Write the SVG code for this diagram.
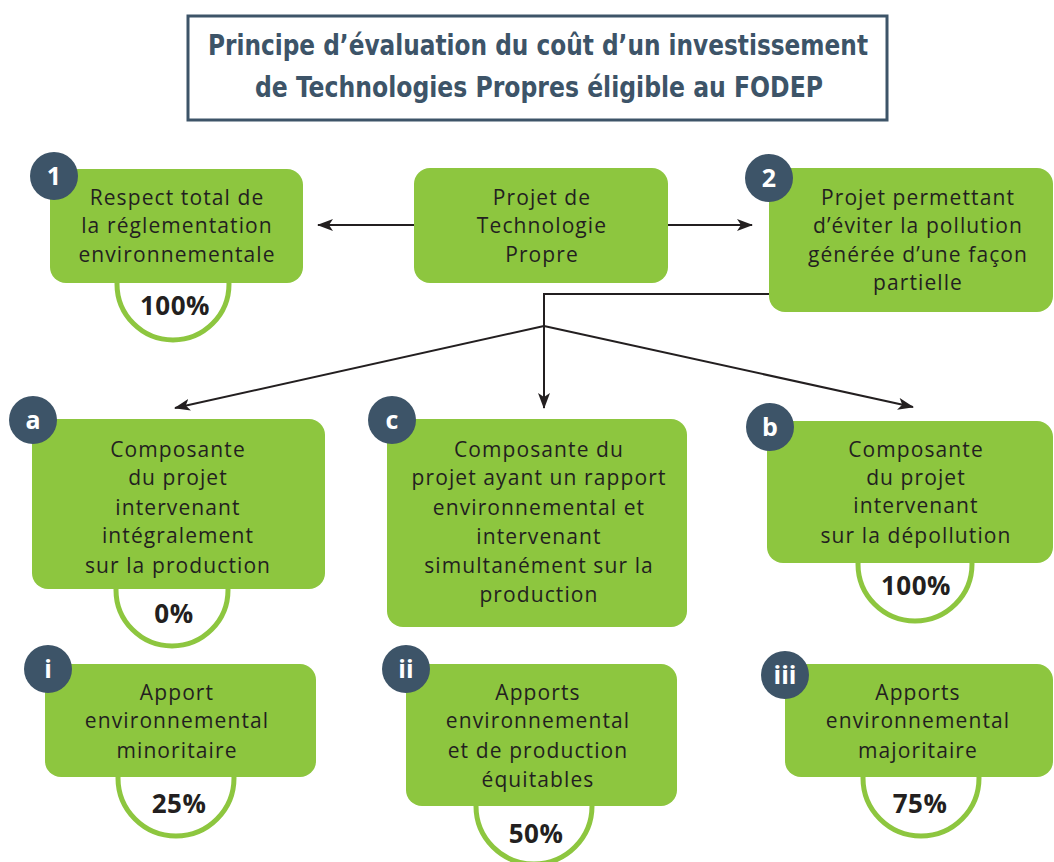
<svg xmlns="http://www.w3.org/2000/svg" width="1054" height="862" viewBox="0 0 1054 862">
<style>
.box{fill:#8dc63f}
.pc{fill:#fff;stroke:#8dc63f;stroke-width:5}
.bd{fill:#3d5468}
.bt{fill:#fff;font-family:"Open Sans","DejaVu Sans",sans-serif;font-weight:700;font-size:25px;text-anchor:middle}
.t{fill:#231f20;font-family:"Open Sans","Noto Sans",sans-serif;font-size:21px;letter-spacing:1.1px;text-anchor:middle}
.p{fill:#231f20;font-family:"Open Sans","Noto Sans",sans-serif;font-weight:700;font-size:26px;text-anchor:middle;letter-spacing:0.5px}
.ttl{fill:#3d5468;font-family:"DejaVu Sans Condensed","Open Sans",sans-serif;font-weight:700;font-size:29px;text-anchor:middle}
.c{fill:none;stroke:#231f20;stroke-width:2}
</style>
<defs>
<marker id="ah" markerUnits="userSpaceOnUse" markerWidth="16" markerHeight="12" refX="15" refY="6" orient="auto">
<path d="M0,0 L16,6 L0,12 L4,6 z" fill="#231f20"/>
</marker>
</defs>
<rect width="1054" height="862" fill="#fff"/>
<g id="title">
<rect x="188" y="16" width="699" height="104" fill="#fff" stroke="#3d5468" stroke-width="3"/>
<text class="ttl" x="538" y="55" textLength="660" lengthAdjust="spacingAndGlyphs">Principe d’évaluation du coût d’un investissement</text>
<text class="ttl" x="539" y="97" textLength="568" lengthAdjust="spacingAndGlyphs">de Technologies Propres éligible au FODEP</text>
</g>
<g id="connectors">
<line class="c" x1="414" y1="225" x2="318" y2="225" marker-end="url(#ah)"/>
<line class="c" x1="668" y1="225" x2="752" y2="225" marker-end="url(#ah)"/>
<polyline class="c" points="769,294 544,294 544,408" marker-end="url(#ah)"/>
<line class="c" x1="544" y1="326" x2="175" y2="408" marker-end="url(#ah)"/>
<line class="c" x1="544" y1="326" x2="913" y2="407" marker-end="url(#ah)"/>
</g>
<g id="node1">
<circle class="pc" cx="173" cy="284" r="56"/>
<rect class="box" x="50" y="169" width="253" height="114" rx="16"/>
<circle class="bd" cx="54" cy="176" r="24"/>
<text class="bt" x="54" y="185">1</text>
<text class="t" x="177" y="205">Respect total de</text>
<text class="t" x="177" y="233">la réglementation</text>
<text class="t" x="177" y="262">environnementale</text>
<text class="p" x="175" y="315">100%</text>
</g>
<g id="projet">
<rect class="box" x="414" y="168" width="254" height="115" rx="16"/>
<text class="t" x="542" y="205">Projet de</text>
<text class="t" x="542" y="233">Technologie</text>
<text class="t" x="542" y="262">Propre</text>
</g>
<g id="node2">
<rect class="box" x="769" y="168" width="284" height="144" rx="16"/>
<circle class="bd" cx="769" cy="178" r="24"/>
<text class="bt" x="769" y="187">2</text>
<text class="t" x="918" y="205">Projet permettant</text>
<text class="t" x="918" y="233">d’éviter la pollution</text>
<text class="t" x="918" y="262">générée d’une façon</text>
<text class="t" x="918" y="290">partielle</text>
</g>
<g id="nodeA">
<circle class="pc" cx="172" cy="590" r="56"/>
<rect class="box" x="32" y="419" width="293" height="170" rx="16"/>
<circle class="bd" cx="33" cy="420" r="24"/>
<text class="bt" x="33" y="429">a</text>
<text class="t" x="178" y="457">Composante</text>
<text class="t" x="178" y="485">du projet</text>
<text class="t" x="178" y="515">intervenant</text>
<text class="t" x="178" y="543">intégralement</text>
<text class="t" x="178" y="573">sur la production</text>
<text class="p" x="174" y="623">0%</text>
</g>
<g id="nodeC">
<rect class="box" x="387" y="419" width="300" height="208" rx="16"/>
<circle class="bd" cx="392" cy="420" r="24"/>
<text class="bt" x="392" y="429">c</text>
<text class="t" x="539" y="457">Composante du</text>
<text class="t" x="539" y="485">projet ayant un rapport</text>
<text class="t" x="539" y="515">environnemental et</text>
<text class="t" x="539" y="544">intervenant</text>
<text class="t" x="539" y="573">simultanément sur la</text>
<text class="t" x="539" y="602">production</text>
</g>
<g id="nodeB">
<circle class="pc" cx="915" cy="564" r="57"/>
<rect class="box" x="767" y="421" width="286" height="142" rx="16"/>
<circle class="bd" cx="770" cy="427" r="24"/>
<text class="bt" x="770" y="436">b</text>
<text class="t" x="916" y="457">Composante</text>
<text class="t" x="916" y="485">du projet</text>
<text class="t" x="916" y="513">intervenant</text>
<text class="t" x="916" y="543">sur la dépollution</text>
<text class="p" x="916" y="595">100%</text>
</g>
<g id="nodeI">
<circle class="pc" cx="176" cy="778" r="58"/>
<rect class="box" x="45" y="664" width="271" height="113" rx="16"/>
<circle class="bd" cx="48" cy="669" r="24"/>
<text class="bt" x="48" y="678">i</text>
<text class="t" x="177" y="700">Apport</text>
<text class="t" x="177" y="728">environnemental</text>
<text class="t" x="177" y="758">minoritaire</text>
<text class="p" x="179" y="813">25%</text>
</g>
<g id="nodeII">
<circle class="pc" cx="534" cy="806" r="58"/>
<rect class="box" x="406" y="664" width="271" height="142" rx="16"/>
<circle class="bd" cx="406" cy="669" r="24"/>
<text class="bt" x="406" y="678">ii</text>
<text class="t" x="538" y="700">Apports</text>
<text class="t" x="538" y="728">environnemental</text>
<text class="t" x="538" y="758">et de production</text>
<text class="t" x="538" y="787">équitables</text>
<text class="p" x="536" y="843">50%</text>
</g>
<g id="nodeIII">
<circle class="pc" cx="921" cy="778" r="58"/>
<rect class="box" x="785" y="664" width="268" height="113" rx="16"/>
<circle class="bd" cx="785" cy="675" r="24"/>
<text class="bt" x="785" y="684">iii</text>
<text class="t" x="918" y="700">Apports</text>
<text class="t" x="918" y="728">environnemental</text>
<text class="t" x="918" y="758">majoritaire</text>
<text class="p" x="920" y="813">75%</text>
</g>
</svg>
